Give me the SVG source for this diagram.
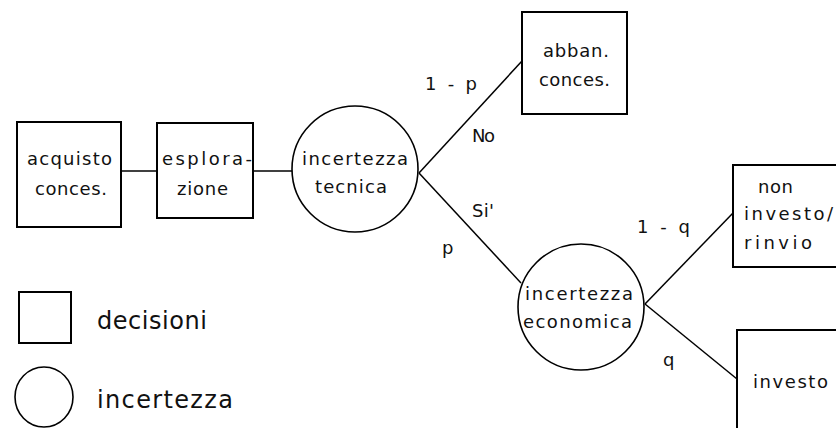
<svg xmlns="http://www.w3.org/2000/svg" width="836" height="428" viewBox="0 0 836 428">
<style>
.box{fill:none;stroke:#000;stroke-width:2}
.circ{fill:none;stroke:#000;stroke-width:1.6}
.conn{stroke:#000;stroke-width:1.5;fill:none}
text{font-family:"DejaVu Sans","Liberation Sans",sans-serif;font-size:18px;fill:#111}
.leg{font-size:24px}
</style>
<rect width="836" height="428" fill="#fff"/>
<g id="connectors">
<line class="conn" x1="121" y1="171" x2="157" y2="171"/>
<line class="conn" x1="253" y1="171" x2="292" y2="171"/>
<line class="conn" x1="419" y1="173" x2="522" y2="61"/>
<line class="conn" x1="419" y1="173" x2="521" y2="283"/>
<line class="conn" x1="645" y1="304" x2="733" y2="213"/>
<line class="conn" x1="645" y1="304" x2="737" y2="379"/>
<text x="425" y="90" textLength="52" lengthAdjust="spacing">1 - p</text>
<text x="472" y="142" textLength="23" lengthAdjust="spacing">No</text>
<text x="472" y="217" textLength="22" lengthAdjust="spacing">Si'</text>
<text x="442" y="254" textLength="11" lengthAdjust="spacing">p</text>
<text x="637" y="233" textLength="53" lengthAdjust="spacing">1 - q</text>
<text x="663" y="366" textLength="12" lengthAdjust="spacing">q</text>
</g>
<g id="acquisto">
<rect class="box" x="17" y="122" width="104" height="105"/>
<text x="27" y="165" textLength="85" lengthAdjust="spacing">acquisto</text>
<text x="35" y="195" textLength="72" lengthAdjust="spacing">conces.</text>
</g>
<g id="esplorazione">
<rect class="box" x="157" y="123" width="96" height="95"/>
<text x="162" y="165" textLength="90" lengthAdjust="spacing">esplora-</text>
<text x="177" y="195" textLength="51" lengthAdjust="spacing">zione</text>
</g>
<g id="incertezza-tecnica">
<circle class="circ" cx="355" cy="169" r="63"/>
<text x="302" y="165" textLength="106" lengthAdjust="spacing">incertezza</text>
<text x="315" y="193" textLength="72" lengthAdjust="spacing">tecnica</text>
</g>
<g id="abbandono">
<rect class="box" x="522" y="12" width="105" height="102"/>
<text x="543" y="57" textLength="66" lengthAdjust="spacing">abban.</text>
<text x="539" y="86" textLength="71" lengthAdjust="spacing">conces.</text>
</g>
<g id="incertezza-economica">
<circle class="circ" cx="581" cy="307" r="63"/>
<text x="525" y="300" textLength="108" lengthAdjust="spacing">incertezza</text>
<text x="523" y="328" textLength="109" lengthAdjust="spacing">economica</text>
</g>
<g id="non-investo">
<rect class="box" x="733" y="165" width="120" height="102"/>
<text x="758" y="193" textLength="35" lengthAdjust="spacing">non</text>
<text x="744" y="220" textLength="89" lengthAdjust="spacing">investo/</text>
<text x="744" y="249" textLength="68" lengthAdjust="spacing">rinvio</text>
</g>
<g id="investo">
<rect class="box" x="737" y="330" width="120" height="120"/>
<text x="753" y="388" textLength="75" lengthAdjust="spacing">investo</text>
</g>
<g id="legend">
<rect class="box" x="19" y="292" width="52" height="51"/>
<text class="leg" x="97" y="329" textLength="110" lengthAdjust="spacing">decisioni</text>
<ellipse class="circ" cx="44" cy="397" rx="29" ry="30"/>
<text class="leg" x="97" y="408" textLength="136" lengthAdjust="spacing">incertezza</text>
</g>
</svg>
